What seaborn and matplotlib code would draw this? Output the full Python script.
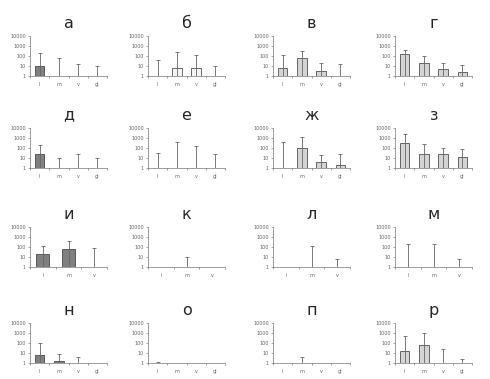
import matplotlib
matplotlib.use("Agg")
import matplotlib.pyplot as plt
import seaborn as sns
import pandas as pd
import numpy as np

sns.set_style("white")
plt.rcParams['font.family'] = ['DejaVu Sans']

cats4 = ["l", "m", "v", "gl"]
cats3 = ["l", "m", "v"]
titles = ["а", "б", "в", "г", "д", "е", "ж", "з", "и", "к", "л", "м", "н", "о", "п", "р"]

# bar values (1 = no bar) and upper end of error bars
val_a = [10, 1, 1, 1];        err_a = [200, 70, 15, 10]
val_b = [1, 6, 7, 1];         err_b = [40, 270, 120, 10]
val_v = [6, 70, 3.5, 1];      err_v = [130, 340, 20, 15]
val_g = [160, 20, 4.5, 2.3];  err_g = [370, 100, 20, 12]
val_d = [23, 1, 1, 1];        err_d = [200, 11, 23, 9]
val_e = [1, 1, 1, 1];         err_e = [30, 400, 150, 25]
val_zh = [1, 110, 4, 2.2];    err_zh = [380, 1300, 20, 25]
val_z = [300, 23, 25, 12];    err_z = [2500, 240, 90, 80]
val_i = [22, 60, 1];          err_i = [120, 370, 85]
val_k = [1, 1, 1];            err_k = [1, 9, 1]
val_l = [1, 1, 1];            err_l = [1, 120, 7]
val_m = [1, 1, 1];            err_m = [220, 220, 6]
val_n = [6, 1.5, 1, 1];       err_n = [110, 8.5, 4, 1]
val_o = [1, 1, 1, 1];         err_o = [1.3, 1, 1, 1]
val_p = [1, 1, 1, 1];         err_p = [1, 4, 1, 1]
val_r = [16, 70, 1, 1];       err_r = [470, 1000, 27, 2.7]

panels = [
    (cats4, val_a, err_a, "#808080"),
    (cats4, val_b, err_b, "#f4f4f4"),
    (cats4, val_v, err_v, "#d4d4d4"),
    (cats4, val_g, err_g, "#d4d4d4"),
    (cats4, val_d, err_d, "#808080"),
    (cats4, val_e, err_e, "#d4d4d4"),
    (cats4, val_zh, err_zh, "#d4d4d4"),
    (cats4, val_z, err_z, "#d4d4d4"),
    (cats3, val_i, err_i, "#808080"),
    (cats3, val_k, err_k, "#d4d4d4"),
    (cats3, val_l, err_l, "#d4d4d4"),
    (cats3, val_m, err_m, "#d4d4d4"),
    (cats4, val_n, err_n, "#808080"),
    (cats4, val_o, err_o, "#d4d4d4"),
    (cats4, val_p, err_p, "#d4d4d4"),
    (cats4, val_r, err_r, "#d4d4d4"),
]

W, H = 490, 379
fig = plt.figure(figsize=(W / 100, H / 100), dpi=100)

col_left = [30, 148, 273, 395]
ax_w = 77
row_bottom = [76, 168, 267, 363]
ax_h = 40

for idx, (cats, vals, errs, color) in enumerate(panels):
    r, c = divmod(idx, 4)
    ax = fig.add_axes([col_left[c] / W, 1 - row_bottom[r] / H, ax_w / W, ax_h / H])
    df = pd.DataFrame({"cat": cats, "val": vals})
    sns.barplot(data=df, x="cat", y="val", ax=ax, color=color, width=0.5,
                edgecolor="#333333", linewidth=0.5, saturation=1, errorbar=None)
    ax.set_yscale("log")
    ax.set_ylim(1, 10000)
    ax.set_xlim(-0.5, len(cats) - 0.5)
    xs = np.arange(len(cats))
    e = np.array(errs, dtype=float)
    m = e > 1
    ax.vlines(xs[m], 1, e[m], color="#666666", linewidth=0.6, zorder=3)
    ax.scatter(xs[m], e[m], marker="_", s=10, color="#666666", linewidths=0.6, zorder=3)
    ax.set_yticks([1, 10, 100, 1000, 10000])
    ax.set_yticklabels(["1", "10", "100", "1000", "10000"])
    ax.yaxis.set_minor_locator(matplotlib.ticker.NullLocator())
    ax.set_xticks(xs)
    ax.set_xticklabels(cats)
    ax.set_xticks(np.arange(len(cats) + 1) - 0.5, minor=True)
    ax.tick_params(axis="both", which="major", labelsize=3.5, length=1.5, width=0.4,
                   colors="#666666", pad=1.5)
    ax.tick_params(axis="x", which="minor", length=1.5, width=0.4, color="#555555")
    ax.tick_params(left=True, bottom=True, which="both")
    ax.tick_params(axis="x", which="major", length=0, pad=4)
    ax.set_xlabel("")
    ax.set_ylabel("")
    for s in ["top", "right"]:
        ax.spines[s].set_visible(False)
    for s in ["left", "bottom"]:
        ax.spines[s].set_color("#777777")
        ax.spines[s].set_linewidth(0.5)
    ax.set_title(titles[idx], fontsize=11.5, pad=6)

fig.savefig("out.png", dpi=100)
